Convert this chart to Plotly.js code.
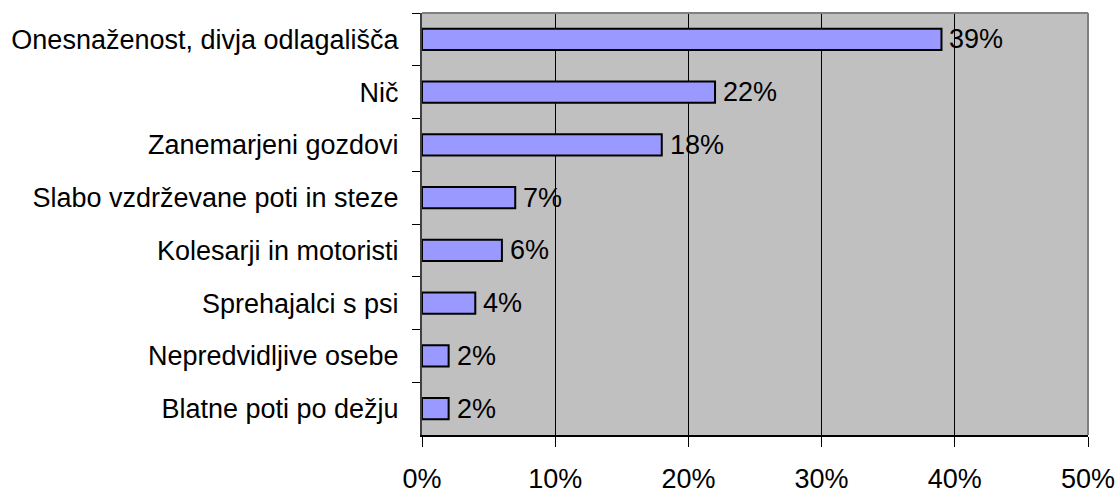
<!DOCTYPE html>
<html>
<head>
<meta charset="utf-8">
<script src="https://cdn.plot.ly/plotly-3.0.1.min.js"></script>
<style>html,body{margin:0;padding:0;background:#fff;}#chart{width:1118px;height:493px;}</style>
</head>
<body>
<div id="chart"></div>
<script>
const categories = [
  "Onesnaženost, divja odlagališča",
  "Nič",
  "Zanemarjeni gozdovi",
  "Slabo vzdrževane poti in steze",
  "Kolesarji in motoristi",
  "Sprehajalci s psi",
  "Nepredvidljive osebe",
  "Blatne poti po dežju"
];
const values = [39, 22, 18, 7, 6, 4, 2, 2];
const xTickVals = [0, 10, 20, 30, 40, 50];
const xTickText = ["0%", "10%", "20%", "30%", "40%", "50%"];

const catFont = {family: "Liberation Sans, Arial, sans-serif", size: 27, color: "#000"};
const numFont = {family: "Liberation Sans, Arial, sans-serif", size: 27, color: "#000"};

const trace = {
  type: "bar",
  orientation: "h",
  y: categories,
  x: values,
  width: 0.4,
  marker: {color: "#9999FF", line: {color: "#000", width: 2}},
  hoverinfo: "none"
};

const labels = values.map((v, i) => ({
  x: v, y: categories[i], xref: "x", yref: "y",
  text: v + "%", showarrow: false,
  xanchor: "left", yanchor: "middle", xshift: 6,
  font: numFont
}));

const layout = {
  width: 1118, height: 493,
  margin: {l: 422, r: 30, t: 13, b: 58, pad: 0},
  paper_bgcolor: "#fff",
  plot_bgcolor: "#C0C0C0",
  font: catFont,
  showlegend: false,
  bargap: 0.6,
  xaxis: {
    range: [0, 50],
    tickvals: xTickVals,
    ticktext: xTickText,
    ticks: "outside", ticklen: 10, tickcolor: "#000", tickwidth: 1,
    showgrid: true, gridcolor: "#000", gridwidth: 1,
    showline: true, linecolor: "#000", linewidth: 2,
    zeroline: false,
    ticklabelstandoff: 9,
    tickfont: numFont,
    fixedrange: true
  },
  yaxis: {
    type: "category",
    autorange: "reversed",
    ticks: "outside", ticklen: 8, tickcolor: "#000", tickwidth: 1,
    tickson: "boundaries",
    showgrid: false,
    showline: true, linecolor: "#404040", linewidth: 2,
    ticklabelstandoff: 16,
    tickfont: catFont,
    fixedrange: true
  },
  annotations: labels,
  shapes: [
    {type: "line", xref: "paper", yref: "paper", x0: 0, x1: 1, y0: 1, y1: 1, line: {color: "#808080", width: 2}},
    {type: "line", xref: "paper", yref: "paper", x0: 1, x1: 1, y0: 0, y1: 1, line: {color: "#808080", width: 2}}
  ]
};

Plotly.newPlot("chart", [trace], layout, {displayModeBar: false, staticPlot: true});
</script>
</body>
</html>
